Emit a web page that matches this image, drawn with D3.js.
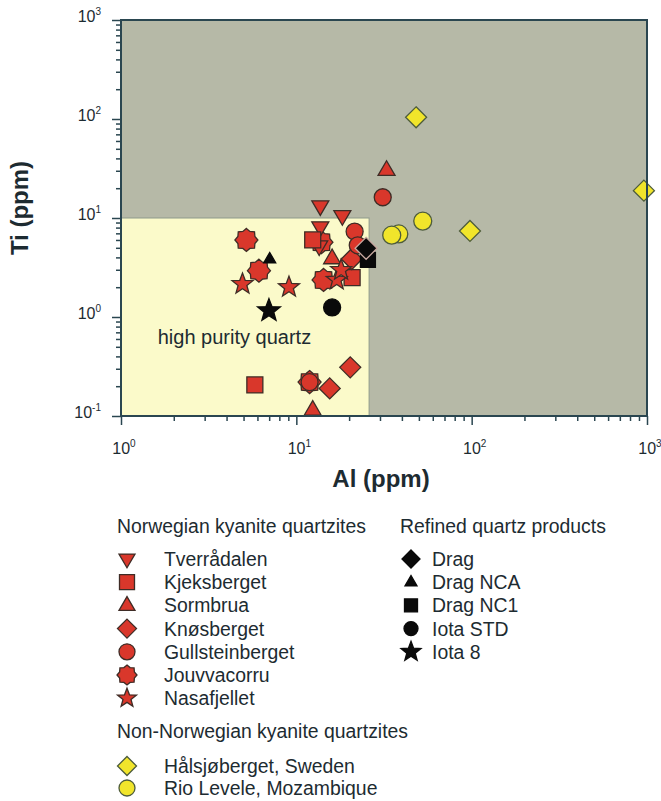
<!DOCTYPE html>
<html>
<head>
<meta charset="utf-8">
<script src="https://cdn.jsdelivr.net/npm/d3@7"></script>
<style>
	body { margin: 0; background: #ffffff; }
	svg { font-family: "Liberation Sans", Arial, sans-serif; }
</style>
</head>
<body>
<div id="chart"></div>
<script>

// data, each point is [Al ppm, Ti ppm]
var tverradalen = [[13.7, 13.2], [18.3, 10.5], [13.5, 5.2], [13.7, 8.1]];
var kjeksberget = [[12.4, 6.0], [20.8, 2.5], [5.8, 0.206]];
var sormbrua = [[32.7, 30.5], [16.0, 3.9], [12.4, 0.115]];
var knosberget = [[20.3, 0.31], [15.5, 0.19], [20.7, 3.85]];
var gullsteinberget = [[31.1, 16.2], [21.5, 7.3], [22.4, 5.3], [11.9, 0.22]];
var jouvvacorru = [[13.9, 5.7], [5.19, 6.0], [6.12, 2.94], [14.3, 2.37], [11.9, 0.22]];
var nasafjellet = [[4.93, 2.15], [9.08, 2.0], [17.0, 2.37], [18.0, 2.98]];
var halsjoberget = [[48.2, 104], [97.8, 7.4], [960, 18.9]];
var rioLevele = [[38.4, 6.9], [35.0, 6.7], [52.6, 9.3]];
var dragNC1 = [[25.6, 3.77]];
var drag = [[25.0, 4.94]];
var dragNCA = [[7.05, 3.85]];
var iotaSTD = [[16.0, 1.25]];
var iota8 = [[6.98, 1.16]];

// axes
var xMajor = [1, 10, 100, 1000];
var yMajor = [0.1, 1, 10, 100, 1000];
var xExp = ["0", "1", "2", "3"];
var yExp = ["-1", "0", "1", "2", "3"];

// high purity box limits
var purityAl = [1, 26];
var purityTi = [0.1, 10];

var red = "#d9372b", redLine = "#3e2c26";
var yellow = "#f1e52b", yellowLine = "#4d5c3c";
var black = "#0a0a0a";
var textColor = "#1d2b31";

// symbol path builders (s ~ half size in px)
function poly(points) {
	var p = d3.path();
	points.forEach(function(d, i) {
		if (i === 0) p.moveTo(d[0], d[1]); else p.lineTo(d[0], d[1]);
	});
	p.closePath();
	return p.toString();
}
function starPoints(n, R, r) {
	var pts = [];
	for (var i = 0; i < n * 2; i++) {
		var a = -Math.PI / 2 + i * Math.PI / n;
		var rr = (i % 2 === 0) ? R : r;
		pts.push([rr * Math.cos(a), rr * Math.sin(a)]);
	}
	return pts;
}
var shapes = {
	triDown: function(s) { return poly([[-s, -s * 0.62], [s, -s * 0.62], [0, s * 1.1]]); },
	triUp: function(s) { return poly([[-s, s * 0.62], [s, s * 0.62], [0, -s * 1.1]]); },
	square: function(s) { return poly([[-s, -s], [s, -s], [s, s], [-s, s]]); },
	diamond: function(s) { return poly([[0, -s], [s, 0], [0, s], [-s, 0]]); },
	circle: function(s) { return d3.arc()({innerRadius: 0, outerRadius: s, startAngle: 0, endAngle: 2 * Math.PI}); },
	octa: function(s) { return poly(starPoints(8, s, s * 0.8)); },
	star: function(s) { return poly(starPoints(5, s, s * 0.42)); }
};

// legend slot = position in its legend column, draw order follows the array
var series = [
	{name: "Jouvvacorru", data: jouvvacorru, shape: "octa", size: 11.5, lsize: 10, fill: red, stroke: redLine, group: 0, slot: 5},
	{name: "Tverrådalen", data: tverradalen, shape: "triDown", size: 8.5, lsize: 8, fill: red, stroke: redLine, group: 0, slot: 0},
	{name: "Kjeksberget", data: kjeksberget, shape: "square", size: 8, lsize: 7.5, fill: red, stroke: redLine, group: 0, slot: 1},
	{name: "Sormbrua", data: sormbrua, shape: "triUp", size: 8.5, lsize: 8, fill: red, stroke: redLine, group: 0, slot: 2},
	{name: "Knøsberget", data: knosberget, shape: "diamond", size: 10.5, lsize: 9.5, fill: red, stroke: redLine, group: 0, slot: 3},
	{name: "Gullsteinberget", data: gullsteinberget, shape: "circle", size: 8.5, lsize: 8, fill: red, stroke: redLine, group: 0, slot: 4},
	{name: "Nasafjellet", data: nasafjellet, shape: "star", size: 11, lsize: 10, fill: red, stroke: redLine, group: 0, slot: 6},
	{name: "Hålsjøberget, Sweden", data: halsjoberget, shape: "diamond", size: 10.5, lsize: 9.5, fill: yellow, stroke: yellowLine, group: 1, slot: 0},
	{name: "Rio Levele, Mozambique", data: rioLevele, shape: "circle", size: 9, lsize: 8, fill: yellow, stroke: yellowLine, group: 1, slot: 1},
	{name: "Drag NC1", data: dragNC1, shape: "square", size: 7.5, lsize: 6.5, fill: black, stroke: black, group: 2, slot: 2},
	{name: "Drag", data: drag, shape: "diamond", size: 11, lsize: 9, fill: black, stroke: "#c8a9a0", group: 2, slot: 0},
	{name: "Drag NCA", data: dragNCA, shape: "triUp", size: 6, lsize: 6, fill: black, stroke: black, group: 2, slot: 1},
	{name: "Iota STD", data: iotaSTD, shape: "circle", size: 8.5, lsize: 7, fill: black, stroke: black, group: 2, slot: 3},
	{name: "Iota 8", data: iota8, shape: "star", size: 12, lsize: 10.5, fill: black, stroke: black, group: 2, slot: 4}
];

var margin = {top: 20, left: 121};
var width = 526, height = 396;

var svg = d3.select("#chart")
	.append("svg")
	.attr("width", 661)
	.attr("height", 801);

var g = svg.append("g")
	.attr("transform", "translate(" + margin.left + "," + margin.top + ")");

var x = d3.scaleLog().domain([1, 1000]).range([0, width]);
var y = d3.scaleLog().domain([0.1, 1000]).range([height, 0]);

// background and high purity field
g.append("rect")
	.attr("width", width)
	.attr("height", height)
	.style("fill", "#b6b9a7");

g.append("rect")
	.attr("x", x(purityAl[0]))
	.attr("y", y(purityTi[1]))
	.attr("width", x(purityAl[1]) - x(purityAl[0]))
	.attr("height", y(purityTi[0]) - y(purityTi[1]))
	.style("fill", "#fbfaca")
	.style("stroke", "#8e9a8c")
	.style("stroke-width", 1);

g.append("text")
	.attr("x", x(1.62))
	.attr("y", y(0.533))
	.style("font-size", "20px")
	.style("fill", textColor)
	.text("high purity quartz");

// minor ticks
function minors(domain) {
	var out = [];
	for (var e = Math.log10(domain[0]); e < Math.log10(domain[1]); e++) {
		for (var k = 2; k < 10; k++) out.push(k * Math.pow(10, e));
	}
	return out;
}

var axisColor = "#2a4650";

var xMinor = g.append("g").attr("transform", "translate(0," + height + ")")
	.call(d3.axisBottom(x).tickValues(minors(x.domain())).tickSize(5).tickFormat(""));
var xMaj = g.append("g").attr("transform", "translate(0," + height + ")")
	.call(d3.axisBottom(x).tickValues(xMajor).tickSize(9).tickFormat(""));
var yMinor = g.append("g")
	.call(d3.axisLeft(y).tickValues(minors(y.domain())).tickSize(5).tickFormat(""));
var yMaj = g.append("g")
	.call(d3.axisLeft(y).tickValues(yMajor).tickSize(9).tickFormat(""));

[xMinor, xMaj, yMinor, yMaj].forEach(function(a) {
	a.selectAll("line").style("stroke", axisColor).style("stroke-width", 1.5);
	a.select(".domain").remove();
});

// tick labels, 10 with superscript
xMajor.forEach(function(v, i) {
	var t = g.append("text")
		.attr("x", x(v) + 3)
		.attr("y", height + 38)
		.attr("text-anchor", "middle")
		.style("font-size", "16px")
		.style("fill", textColor);
	t.append("tspan").text("10");
	t.append("tspan").attr("dy", -7).style("font-size", "10px").text(xExp[i]);
});

yMajor.forEach(function(v, i) {
	var t = g.append("text")
		.attr("x", -20)
		.attr("y", y(v) + 2)
		.attr("text-anchor", "end")
		.style("font-size", "16px")
		.style("fill", textColor);
	t.append("tspan").text("10");
	t.append("tspan").attr("dy", -7).style("font-size", "10px").text(yExp[i]);
});

// axis titles
svg.append("text")
	.attr("x", margin.left + width / 2 - 3)
	.attr("y", 487)
	.attr("text-anchor", "middle")
	.style("font-size", "24px")
	.style("font-weight", "bold")
	.style("fill", textColor)
	.text("Al (ppm)");

svg.append("text")
	.attr("transform", "translate(28,208) rotate(-90)")
	.attr("text-anchor", "middle")
	.style("font-size", "24px")
	.style("font-weight", "bold")
	.style("fill", textColor)
	.text("Ti (ppm)");

// points
series.forEach(function(s) {
	g.selectAll(null)
		.data(s.data)
		.enter()
		.append("path")
		.attr("d", shapes[s.shape](s.size))
		.attr("transform", function(d) { return "translate(" + x(d[0]) + "," + y(d[1]) + ")"; })
		.style("fill", s.fill)
		.style("stroke", s.stroke)
		.style("stroke-width", 1.3);
});

// frame
g.append("rect")
	.attr("width", width)
	.attr("height", height)
	.style("fill", "none")
	.style("stroke", axisColor)
	.style("stroke-width", 2);

// legend
var legendFont = "19.4px";
var headers = [
	{text: "Norwegian kyanite quartzites", x: 117, y: 533},
	{text: "Non-Norwegian kyanite quartzites", x: 117, y: 738},
	{text: "Refined quartz products", x: 400, y: 533}
];
headers.forEach(function(h) {
	svg.append("text")
		.attr("x", h.x)
		.attr("y", h.y)
		.style("font-size", legendFont)
		.style("fill", textColor)
		.text(h.text);
});

var rowStart = [559, 766, 559];
var rowStep = [23.2, 22, 23.2];
var symX = [127, 127, 411];
var labX = [164, 164, 432];

series.forEach(function(s) {
	var yy = rowStart[s.group] + s.slot * rowStep[s.group];
	var lg = svg.append("g").attr("class", "legend");
	lg.append("path")
		.attr("d", shapes[s.shape](s.lsize))
		.attr("transform", "translate(" + symX[s.group] + "," + yy + ")")
		.style("fill", s.fill)
		.style("stroke", s.group === 2 ? black : s.stroke)
		.style("stroke-width", 1.3);
	lg.append("text")
		.attr("x", labX[s.group])
		.attr("y", yy + 7)
		.style("font-size", legendFont)
		.style("fill", textColor)
		.text(s.name);
});

</script>
</body>
</html>
